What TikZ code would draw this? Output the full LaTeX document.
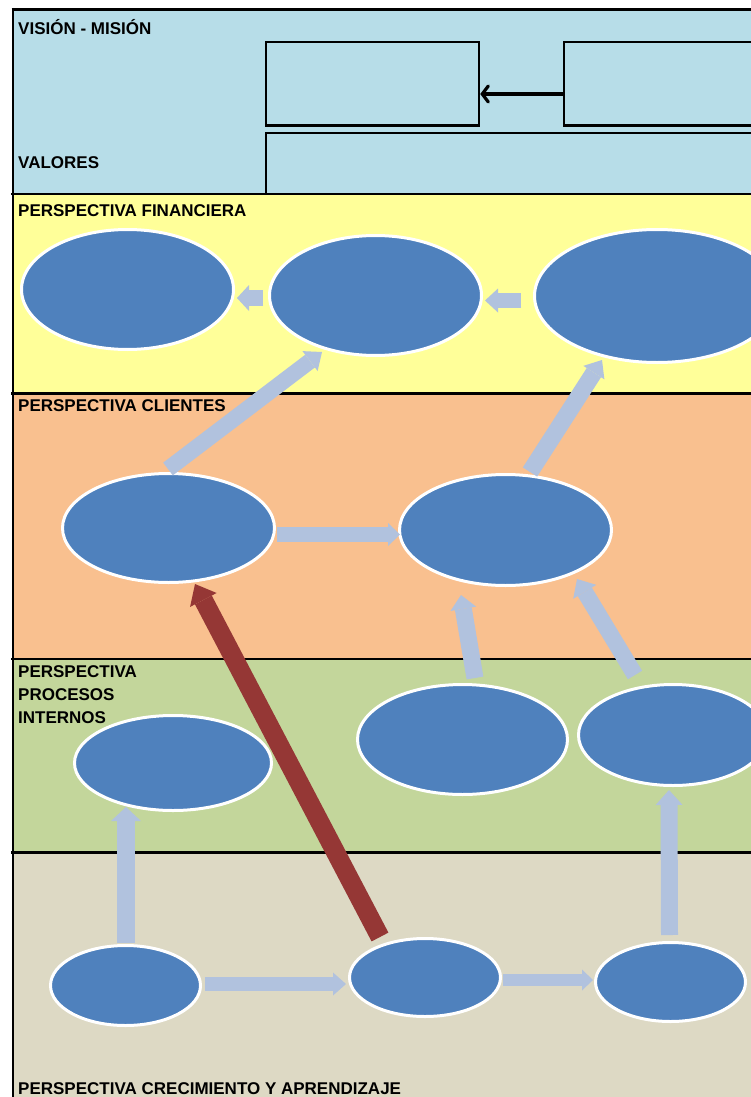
\documentclass[tikz,border=0pt]{standalone}
\usepackage{fontspec}
\setmainfont{Liberation Sans}
\usetikzlibrary{shapes.geometric,arrows.meta}

\definecolor{bandblue}{HTML}{B7DDE8}
\definecolor{bandyellow}{HTML}{FFFF99}
\definecolor{bandorange}{HTML}{F9C08F}
\definecolor{bandgreen}{HTML}{C3D69B}
\definecolor{bandbeige}{HTML}{DDD9C4}
\definecolor{ovalblue}{HTML}{4F81BD}
\definecolor{flowblue}{HTML}{B1C2DE}
\definecolor{keyred}{HTML}{953735}

\tikzset{
  oval/.style={ellipse, draw=white, line width=3pt, fill=ovalblue, inner sep=0pt},
  lbl/.style={anchor=base west, inner sep=0pt, font=\bfseries\fontsize{17}{23}\selectfont},
  rule/.style={draw=black, line width=2.6pt},
  frame/.style={draw=black, line width=2.6pt, inner sep=0pt},
  flow/.style args={#1/#2/#3}{draw=flowblue, line width=#1pt,
    -{Triangle[width=#2pt,length=#3pt,line width=0pt]}},
  keyflow/.style args={#1/#2/#3}{draw=keyred, line width=#1pt,
    -{Triangle[width=#2pt,length=#3pt,line width=0pt]}},
}

\begin{document}
\begin{tikzpicture}[x=1pt,y=-1pt]
\useasboundingbox (0,0) rectangle (751,1097);
\begin{scope}
\clip (0,0) rectangle (751,1097);

% horizontal bands
\fill[bandblue]   (12,9)   rectangle (760,194);
\fill[bandyellow] (12,194) rectangle (760,393);
\fill[bandorange] (12,393) rectangle (760,659);
\fill[bandgreen]  (12,659) rectangle (760,852);
\fill[bandbeige]  (12,852) rectangle (760,1100);

% vision / mission / values boxes
\node[frame, minimum width=213pt, minimum height=83.3pt] (vision) at (372.5,83.6) {};
\node[frame, minimum width=236pt, minimum height=83.3pt] (mision) at (682,83.6) {};
\node[frame, minimum width=534pt, minimum height=61pt]   (valores) at (533,163.5) {};
\draw[line width=3.2pt, line cap=round, -{Straight Barb[length=6pt,width=16pt,line cap=round]}]
  ([shift={(0,10.4)}]mision.west) -- ([shift={(0,10.4)}]vision.east);

% band separators and outer frame
\draw[rule] (11,194) -- (760,194);
\draw[rule] (11,393.3) -- (760,393.3);
\draw[rule] (11,659) -- (760,659);
\draw[rule] (11,852.3) -- (760,852.3);
\draw[draw=black, line width=3pt] (11.5,9.5) -- (760,9.5);
\draw[rule] (12.8,8) -- (12.8,1100);

% section titles
\node[lbl] (tvm)  at (18,35)     {VISIÓN - MISIÓN};
\node[lbl] (tval) at (18,168.5)  {VALORES};
\node[lbl] (tfin) at (18,216.5)  {PERSPECTIVA FINANCIERA};
\node[lbl] (tcli) at (18,411.8)  {PERSPECTIVA CLIENTES};
\node[lbl] (tpi1) at (18,677.5)  {PERSPECTIVA};
\node[lbl] (tpi2) at (18,700.7)  {PROCESOS};
\node[lbl] (tpi3) at (18,723.5)  {INTERNOS};
\node[lbl] (tcre) at (18,1094)   {PERSPECTIVA CRECIMIENTO Y APRENDIZAJE};

% objectives
\node[oval, minimum width=212pt, minimum height=120pt] (f1) at (127.5,289.5) {};
\node[oval, minimum width=212pt, minimum height=120pt] (f2) at (375.5,295.5) {};
\node[oval, minimum width=245pt, minimum height=133pt] (f3) at (657,296) {};
\node[oval, minimum width=212pt, minimum height=109pt] (c1) at (168.5,528) {};
\node[oval, minimum width=212pt, minimum height=111pt] (c2) at (505.5,530) {};
\node[oval, minimum width=197pt, minimum height=95pt]  (p1) at (173,763) {};
\node[oval, minimum width=210pt, minimum height=110pt] (p2) at (462.5,739.5) {};
\node[oval, minimum width=189pt, minimum height=101pt] (p3) at (673,735) {};
\node[oval, minimum width=150pt, minimum height=80pt]  (a1) at (125.5,985.5) {};
\node[oval, minimum width=151pt, minimum height=78pt]  (a2) at (425,977.5) {};
\node[oval, minimum width=150pt, minimum height=79pt]  (a3) at (670.5,982) {};

% cause-effect links
\draw[flow=16/26/12] ([shift={(-5,2.5)}]f2.west)  -- ([shift={(2,8.5)}]f1.east);
\draw[flow=15/24/13] ([shift={(-12,4.5)}]f3.west) -- ([shift={(2,5)}]f2.east);
\draw[flow=16/25/15] ([shift={(-0.5,-3)}]c1.north) -- ([shift={(-53.5,-5)}]f2.south);
\draw[flow=17/25/15] ([shift={(24.5,-1)}]c2.north) -- ([shift={(-55,-4)}]f3.south);
\draw[flow=15/23/12] ([shift={(1,6.5)}]c1.east)   -- ([shift={(2,4.5)}]c2.west);
\draw[flow=17/26/14] ([shift={(12.5,-5)}]p2.north) -- ([shift={(-44.5,8)}]c2.south);
\draw[flow=16.5/27/15] ([shift={(-38,-8)}]p3.north) -- ([shift={(71.5,-8)}]c2.south);
\draw[flow=18/30/14] ([shift={(0.5,-1)}]a1.north) -- ([shift={(-47,-5)}]p1.south);
\draw[flow=14/23/13] ([shift={(3,-1.5)}]a1.east)  -- ([shift={(-2,6.5)}]a2.west);
\draw[flow=12/21/11] ([shift={(1,2.5)}]a2.east)   -- ([shift={(-1,-2)}]a3.west);
\draw[flow=17/27/15] ([shift={(-1,-6)}]a3.north)  -- ([shift={(-4,3)}]p3.south);
\draw[keyflow=19/30/18] ([shift={(-45,0)}]a2.north) -- ([shift={(26.5,0)}]c1.south);
\end{scope}
\end{tikzpicture}
\end{document}
